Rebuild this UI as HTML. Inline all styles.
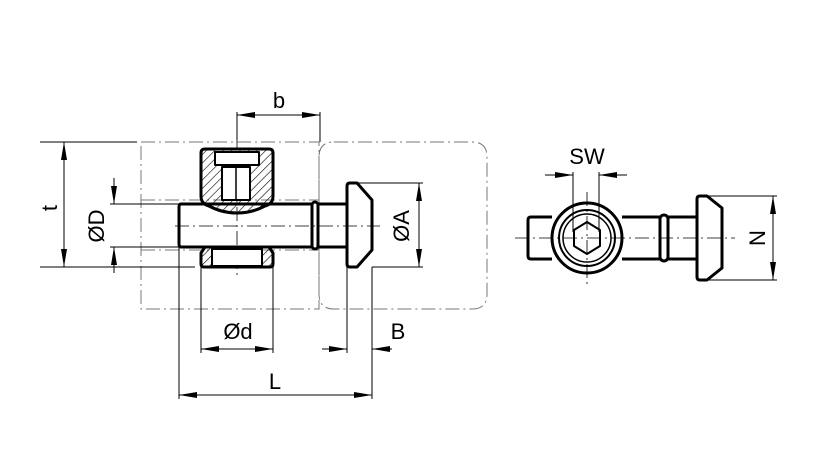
<!DOCTYPE html>
<html><head><meta charset="utf-8"><style>
html,body{margin:0;padding:0;background:#fff;}
svg{display:block;}
text{font-family:"Liberation Sans","DejaVu Sans",sans-serif;font-size:22px;fill:#000;}
</style></head><body>
<svg width="827" height="472" viewBox="0 0 827 472" xmlns="http://www.w3.org/2000/svg">
<defs>
<pattern id="h" patternUnits="userSpaceOnUse" width="6" height="6" patternTransform="rotate(45)">
<line x1="0" y1="0" x2="0" y2="6" stroke="#000" stroke-width="1.2"/>
</pattern>
<marker id="a" viewBox="0 0 18 6" refX="18" refY="3" markerWidth="18" markerHeight="6" orient="auto-start-reverse" markerUnits="userSpaceOnUse">
<path d="M0,0 L18,3 L0,6 z" fill="#000"/>
</marker>
</defs>
<g fill="none" stroke="#777" stroke-width="1" stroke-dasharray="14,4,2,4">
<rect x="141" y="142" width="178" height="167"/>
<path d="M334,142 H472 Q487,142 487,157 V294 Q487,309 472,309 H334 Q319,309 319,294 V157 Q319,142 334,142"/>
<line x1="141" y1="200" x2="319" y2="200"/>
<line x1="141" y1="250" x2="319" y2="250"/>
</g>
<g stroke="#000" stroke-width="0.8" stroke-dasharray="14,4,2,4" fill="none">
<line x1="175" y1="226" x2="380" y2="226"/>
<line x1="237" y1="135" x2="237" y2="278"/>
<line x1="515" y1="238" x2="735" y2="238"/>
<line x1="587" y1="192" x2="587" y2="285"/>
</g>
<g stroke="#000" stroke-width="3" fill="none" stroke-linejoin="round">
<path d="M181,204 H312 M181,247 H312 M181,204 Q179,204 179,207 V244 Q179,247 181,247"/>
<rect x="312" y="202" width="6" height="47" rx="3"/>
<path d="M318,204 H347 M318,247 H347"/>
<path d="M350,183 H357 L372,200 V250 L357,267 H350 Q347,267 347,264 V186 Q347,183 350,183 Z"/>
<path d="M205,149 H269 Q273,149 273,153 V196 Q273,204 265,206 Q252,213 237,213 Q222,213 209,206 Q201,204 201,196 V153 Q201,149 205,149 Z" fill="url(#h)"/>
<rect x="215" y="152" width="44" height="13" fill="#fff" stroke-width="2"/>
<rect x="222" y="167" width="28" height="33" fill="#fff" stroke-width="2"/>
<line x1="236" y1="167" x2="236" y2="200" stroke-width="1.5"/>
<path d="M205,247 H269 L273,253 V264 Q273,267 270,267 H204 Q201,267 201,264 V253 Z" fill="url(#h)"/>
<rect x="212" y="249" width="50" height="17" fill="#fff" stroke-width="2"/>
</g>
<g stroke="#000" stroke-width="1" fill="none">
<line x1="40" y1="142" x2="137" y2="142"/>
<line x1="40" y1="267" x2="195" y2="267"/>
<line x1="64" y1="142" x2="64" y2="267" marker-start="url(#a)" marker-end="url(#a)"/>
<line x1="110" y1="204" x2="179" y2="204"/>
<line x1="110" y1="247" x2="179" y2="247"/>
<line x1="114" y1="178" x2="114" y2="204" marker-end="url(#a)"/>
<line x1="114" y1="273" x2="114" y2="247" marker-end="url(#a)"/>
<line x1="237" y1="112" x2="237" y2="140"/>
<line x1="320" y1="112" x2="320" y2="142"/>
<line x1="237" y1="115" x2="320" y2="115" marker-start="url(#a)" marker-end="url(#a)"/>
<line x1="357" y1="183" x2="423" y2="183"/>
<line x1="372" y1="267" x2="423" y2="267"/>
<line x1="419" y1="183" x2="419" y2="267" marker-start="url(#a)" marker-end="url(#a)"/>
<line x1="201" y1="267" x2="201" y2="353"/>
<line x1="273" y1="267" x2="273" y2="353"/>
<line x1="201" y1="349" x2="273" y2="349" marker-start="url(#a)" marker-end="url(#a)"/>
<line x1="347" y1="267" x2="347" y2="353"/>
<line x1="372" y1="267" x2="372" y2="399"/>
<line x1="322" y1="349" x2="347" y2="349" marker-end="url(#a)"/>
<line x1="392" y1="349" x2="372" y2="349" marker-end="url(#a)"/>
<line x1="179" y1="247" x2="179" y2="399"/>
<line x1="179" y1="395" x2="372" y2="395" marker-start="url(#a)" marker-end="url(#a)"/>
</g>
<text x="279" y="108" text-anchor="middle">b</text>
<text x="57" y="208" transform="rotate(-90 57 208)" text-anchor="middle">t</text>
<text x="104" y="226" transform="rotate(-90 104 226)" text-anchor="middle">ØD</text>
<text x="409" y="226" transform="rotate(-90 409 226)" text-anchor="middle">ØA</text>
<text x="238" y="339" text-anchor="middle">Ød</text>
<text x="398" y="339" text-anchor="middle">B</text>
<text x="275" y="389" text-anchor="middle">L</text>
<g stroke="#000" stroke-width="3" fill="none" stroke-linejoin="round">
<path d="M552,217 H531 Q528,217 528,220 V256 Q528,259 531,259 H552"/>
<path d="M622,217 H660 M622,259 H660"/>
<rect x="660" y="215" width="8" height="46" rx="4"/>
<path d="M668,217 H697 M668,259 H697"/>
<path d="M700,196 H707 L722,208 V268 L707,280 H700 Q697,280 697,277 V199 Q697,196 700,196 Z"/>
<circle cx="587" cy="238" r="35"/>
<circle cx="587" cy="238" r="28" stroke-width="2"/>
<circle cx="587" cy="238" r="24" stroke-width="1.5"/>
<polygon points="587,222 600,230 600,246 587,254 574,246 574,230" stroke-width="2"/>
</g>
<g stroke="#000" stroke-width="1" fill="none">
<line x1="573" y1="172" x2="573" y2="232"/>
<line x1="599" y1="172" x2="599" y2="232"/>
<line x1="545" y1="175" x2="573" y2="175" marker-end="url(#a)"/>
<line x1="627" y1="175" x2="599" y2="175" marker-end="url(#a)"/>
<line x1="707" y1="196" x2="777" y2="196"/>
<line x1="707" y1="280" x2="777" y2="280"/>
<line x1="773" y1="196" x2="773" y2="280" marker-start="url(#a)" marker-end="url(#a)"/>
</g>
<text x="587" y="164" text-anchor="middle">SW</text>
<text x="765" y="238" transform="rotate(-90 765 238)" text-anchor="middle">N</text>
</svg>
</body></html>
